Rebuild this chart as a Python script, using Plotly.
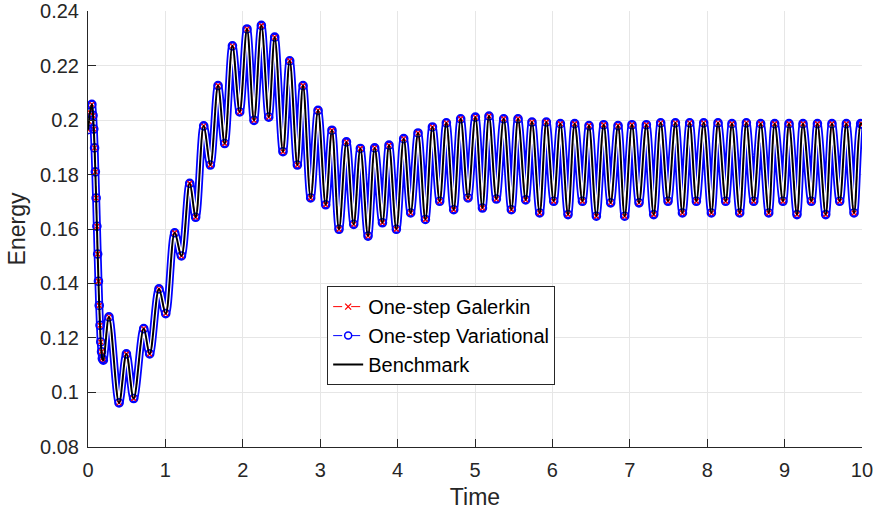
import plotly.graph_objects as go

# Initial transient: densely sampled part of the energy history
time_early = [0.0, 0.012, 0.025, 0.065, 0.075, 0.085, 0.095, 0.105, 0.115,
              0.125, 0.135, 0.145, 0.155, 0.165, 0.175, 0.185]
energy_early = [0.1965, 0.1995, 0.2028, 0.2017, 0.1967, 0.1898, 0.1810, 0.1714,
                0.1610, 0.1508, 0.1408, 0.1319, 0.1246, 0.1185, 0.1149, 0.1124]

# Local maxima of the energy oscillation
peak_time = [0.05, 0.271, 0.496, 0.720, 0.917, 1.120, 1.314, 1.495, 1.680, 1.866,
             2.054, 2.240, 2.412, 2.606, 2.778, 2.972, 3.152, 3.339, 3.519, 3.704,
             3.889, 4.079, 4.264, 4.450, 4.630, 4.815, 5.005, 5.181, 5.371, 5.556,
             5.736, 5.922, 6.103, 6.288, 6.473, 6.663, 6.848, 7.028, 7.214, 7.399,
             7.589, 7.774, 7.955, 8.140, 8.320, 8.506, 8.691, 8.872, 9.057, 9.238,
             9.424, 9.612, 9.798, 9.983]
peak_energy = [0.2058, 0.1277, 0.1141, 0.1234, 0.1380, 0.1586, 0.1768, 0.1979, 0.2127, 0.2273,
               0.2335, 0.2348, 0.2305, 0.2218, 0.2127, 0.2036, 0.1963, 0.1920, 0.1896, 0.1898,
               0.1908, 0.1932, 0.1953, 0.1975, 0.1990, 0.2005, 0.2011, 0.2015, 0.2005, 0.2005,
               0.1993, 0.1993, 0.1987, 0.1987, 0.1980, 0.1983, 0.1980, 0.1983, 0.1983, 0.1990,
               0.1990, 0.1990, 0.1990, 0.1990, 0.1987, 0.1990, 0.1987, 0.1987, 0.1987, 0.1987,
               0.1987, 0.1987, 0.1987, 0.1987]

# Local minima of the energy oscillation
trough_time = [0.198, 0.401, 0.590, 0.797, 1.004, 1.207, 1.391, 1.581, 1.766, 1.960,
               2.145, 2.335, 2.519, 2.705, 2.877, 3.071, 3.243, 3.433, 3.618, 3.804,
               3.984, 4.169, 4.359, 4.544, 4.725, 4.910, 5.096, 5.276, 5.470, 5.655,
               5.836, 6.017, 6.202, 6.388, 6.568, 6.753, 6.934, 7.119, 7.309, 7.494,
               7.680, 7.860, 8.054, 8.239, 8.420, 8.601, 8.795, 8.979, 9.160, 9.346,
               9.531, 9.712, 9.897]
trough_energy = [0.1118, 0.0961, 0.0977, 0.1141, 0.1289, 0.1501, 0.1643, 0.1835, 0.1914, 0.2030,
                 0.1999, 0.2011, 0.1884, 0.1835, 0.1714, 0.1689, 0.1599, 0.1617, 0.1574, 0.1623,
                 0.1599, 0.1659, 0.1635, 0.1702, 0.1671, 0.1714, 0.1677, 0.1710, 0.1671, 0.1707,
                 0.1659, 0.1702, 0.1653, 0.1702, 0.1647, 0.1696, 0.1647, 0.1696, 0.1653, 0.1702,
                 0.1659, 0.1702, 0.1659, 0.1702, 0.1659, 0.1702, 0.1659, 0.1702, 0.1653, 0.1702,
                 0.1653, 0.1702, 0.1659]

time_end = [10.0]
energy_end = [0.1985]

x_ticks = [0, 1, 2, 3, 4, 5, 6, 7, 8, 9, 10]
y_ticks = [0.08, 0.10, 0.12, 0.14, 0.16, 0.18, 0.20, 0.22, 0.24]
y_tick_text = ["0.08", "0.1", "0.12", "0.14", "0.16", "0.18", "0.2", "0.22", "0.24"]

# Merge all samples into one time-ordered history
pairs = sorted(
    list(zip(time_early, energy_early))
    + list(zip(peak_time, peak_energy))
    + list(zip(trough_time, trough_energy))
    + list(zip(time_end, energy_end))
)
t = [p[0] for p in pairs]
e = [p[1] for p in pairs]

FONT = "Liberation Sans, Arial, Helvetica, sans-serif"
INK = "#262626"

fig = go.Figure()

# Ring-like band of the Variational open-circle markers along the curve
fig.add_trace(go.Scatter(
    x=t, y=e, mode="lines", line=dict(color="#0000ff", width=8, shape="spline"),
    showlegend=False, hoverinfo="skip"))
fig.add_trace(go.Scatter(
    x=t, y=e, mode="lines", line=dict(color="#ffffff", width=4.5, shape="spline"),
    showlegend=False, hoverinfo="skip"))

fig.add_trace(go.Scatter(
    x=t, y=e, mode="lines+markers", name="One-step Galerkin", showlegend=False,
    line=dict(color="#ff0000", width=1.2, dash="dash", shape="spline"),
    marker=dict(symbol="x-thin", size=5, line=dict(color="#ff0000", width=1.3))))

fig.add_trace(go.Scatter(
    x=t, y=e, mode="markers", name="One-step Variational", showlegend=False,
    marker=dict(symbol="circle-open", size=8, color="#0000ff", line=dict(width=1.6))))

fig.add_trace(go.Scatter(
    x=t, y=e, mode="lines", name="Benchmark", showlegend=False,
    line=dict(color="#000000", width=2, shape="spline")))

# Legend entries
fig.add_trace(go.Scatter(
    x=[None], y=[None], mode="lines+markers", name="One-step Galerkin",
    line=dict(color="#ff0000", width=1, dash="dash"),
    marker=dict(symbol="x-thin", size=6, line=dict(color="#ff0000", width=1.3))))
fig.add_trace(go.Scatter(
    x=[None], y=[None], mode="lines+markers", name="One-step Variational",
    line=dict(color="#0000ff", width=1, dash="dash"),
    marker=dict(symbol="circle-open", size=7, color="#0000ff", line=dict(width=1.5))))
fig.add_trace(go.Scatter(
    x=[None], y=[None], mode="lines", name="Benchmark",
    line=dict(color="#000000", width=2)))

axis_common = dict(
    showgrid=True, gridcolor="#e6e6e6", gridwidth=1,
    zeroline=False, showline=True, linecolor=INK, linewidth=1,
    ticks="inside", ticklen=8, tickwidth=1, tickcolor=INK,
    tickfont=dict(family=FONT, size=20, color=INK),
    mirror=False, ticklabeloverflow="allow", automargin=False,
)

fig.update_xaxes(
    range=[0, 10.0001], tickvals=x_ticks, ticktext=[str(v) for v in x_ticks],
    title=dict(text="Time", font=dict(family=FONT, size=23, color=INK), standoff=8),
    ticklabelstandoff=5,
    **axis_common)
fig.update_yaxes(
    range=[0.0799, 0.2401], tickvals=y_ticks, ticktext=y_tick_text,
    title=dict(text="Energy", font=dict(family=FONT, size=23, color=INK), standoff=8),
    ticklabelstandoff=4,
    **axis_common)

fig.update_layout(
    width=878, height=515,
    margin=dict(l=88, r=16, t=11, b=68),
    paper_bgcolor="white", plot_bgcolor="white",
    font=dict(family=FONT, color=INK),
    legend=dict(
        x=0.309, y=0.369, xanchor="left", yanchor="top",
        bgcolor="white", bordercolor=INK, borderwidth=1,
        font=dict(family=FONT, size=20, color="#000000"),
        tracegroupgap=0, itemwidth=30,
    ),
)

fig.write_html("out.html")
